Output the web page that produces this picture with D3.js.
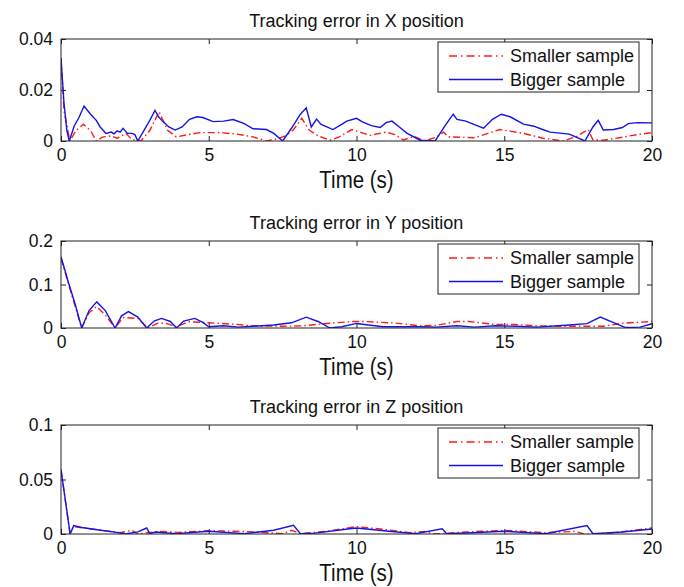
<!DOCTYPE html>
<html>
<head>
<meta charset="utf-8">
<script src="https://cdn.jsdelivr.net/npm/d3@7"></script>
<style>
  body { margin: 0; background: #fff; }
  text { font-family: "Liberation Sans", Arial, sans-serif; fill: #111; }
</style>
</head>
<body>
<div id="chart"></div>
<script>
const titles = ['Tracking error in X position', 'Tracking error in Y position', 'Tracking error in Z position'];
const xTicks = [0, 5, 10, 15, 20];
const yTicksX = [0, 0.02, 0.04];
const yTicksY = [0, 0.1, 0.2];
const yTicksZ = [0, 0.05, 0.1];
const seriesNames = ['Smaller sample', 'Bigger sample'];

// [time, error]
const xSmaller = [[0,0.0325],[0.1,0.012],[0.3,0],[0.5,0.004],[0.76,0.0066],[1.0,0.004],[1.2,0],[1.4,0.0015],[1.7,0.002],[1.9,0.001],[2.2,0.003],[2.4,0.0005],[2.7,0],[3.0,0.004],[3.32,0.0115],[3.6,0.0043],[3.9,0.0016],[4.3,0.0025],[4.7,0.0033],[5.3,0.0033],[5.9,0.0028],[6.5,0.0016],[6.95,0],[7.3,0.0008],[7.6,0.002],[7.86,0.0043],[8.15,0.0089],[8.4,0.0043],[8.7,0.002],[9.1,0.0003],[9.4,0.0015],[9.84,0.0045],[10.45,0.0022],[11.0,0.0035],[11.3,0.0025],[11.58,0.0004],[11.95,0.0018],[12.3,0],[12.7,0.0015],[12.95,0.0035],[13.1,0.0016],[14.0,0.0013],[14.4,0.0028],[14.85,0.0045],[15.65,0.003],[16.3,0.0011],[17.0,0],[17.45,0.0018],[17.84,0.0045],[18.0,0.0005],[18.35,0.0003],[18.9,0.0013],[19.5,0.0025],[20,0.0033]];
const xBigger = [[0,0.0325],[0.1,0.015],[0.2,0.004],[0.28,0],[0.45,0.006],[0.6,0.009],[0.78,0.0137],[1.0,0.0105],[1.2,0.008],[1.32,0.0056],[1.52,0.003],[1.7,0.0035],[1.8,0.0028],[1.9,0.004],[2.0,0.0035],[2.1,0.005],[2.25,0.003],[2.4,0.003],[2.5,0.0025],[2.6,0],[2.8,0.004],[3.0,0.008],[3.18,0.012],[3.3,0.0095],[3.45,0.0076],[3.65,0.0055],[3.86,0.0043],[4.1,0.0055],[4.35,0.0085],[4.6,0.0095],[4.8,0.0092],[5.15,0.0076],[5.5,0.0078],[5.83,0.0084],[6.2,0.0068],[6.5,0.0048],[6.95,0.0045],[7.2,0.003],[7.5,0],[7.8,0.005],[8.1,0.0105],[8.3,0.013],[8.47,0.0055],[8.65,0.0086],[8.8,0.0065],[9.0,0.0055],[9.2,0.0045],[9.5,0.0065],[9.67,0.0078],[10.0,0.0089],[10.2,0.0075],[10.5,0.006],[10.8,0.0053],[11.0,0.0072],[11.2,0.0078],[11.45,0.0055],[11.7,0.0031],[12.15,0.0003],[12.66,0],[13.0,0.006],[13.27,0.0105],[13.4,0.0085],[13.7,0.0078],[13.95,0.0066],[14.3,0.005],[14.6,0.0085],[14.9,0.0105],[15.2,0.0095],[15.65,0.0066],[16.0,0.0058],[16.3,0.0045],[16.55,0.0035],[17.2,0.0027],[17.73,0],[18.0,0.0055],[18.18,0.0081],[18.35,0.0043],[18.7,0.0045],[19.0,0.0053],[19.2,0.0068],[19.5,0.0072],[20,0.0071]];

const ySmaller = [[0,0.16],[0.26,0.1],[0.5,0.045],[0.7,0],[0.95,0.035],[1.2,0.049],[1.5,0.03],[1.83,0],[2.1,0.024],[2.6,0.022],[2.95,0],[3.3,0.012],[3.6,0.01],[3.9,0.002],[4.3,0.0145],[5.0,0.012],[5.9,0.0085],[6.5,0.005],[7.5,0.004],[8.2,0.005],[9.0,0.0105],[9.9,0.015],[10.2,0.015],[11.3,0.0115],[12.15,0.005],[12.7,0.006],[13.4,0.015],[13.8,0.015],[14.7,0.008],[15.4,0.008],[16.1,0.005],[17.0,0.004],[18.35,0.004],[19.0,0.011],[20,0.015]];
const yBigger = [[0,0.164],[0.26,0.103],[0.5,0.05],[0.7,0],[0.95,0.04],[1.21,0.06],[1.5,0.04],[1.83,0],[2.05,0.028],[2.28,0.0375],[2.6,0.025],[2.9,0],[3.15,0.016],[3.4,0.022],[3.7,0.015],[3.91,0],[4.15,0.016],[4.53,0.022],[4.8,0.013],[5.0,0.003],[5.5,0.005],[6.0,0.002],[6.5,0.004],[7.2,0.007],[7.8,0.012],[8.3,0.025],[8.7,0.015],[9.1,0],[9.5,0.003],[10.0,0.0105],[10.4,0.007],[10.9,0.003],[12.15,0.003],[12.7,0.002],[13.4,0.005],[14.0,0.002],[14.7,0.005],[15.4,0.004],[16.1,0.002],[17.2,0.007],[17.8,0.01],[18.25,0.025],[18.7,0.0125],[19.1,0.001],[19.6,0.002],[20,0.01]];

const zSmaller = [[0,0.059],[0.3,0.001],[0.43,0.0068],[1.35,0.0034],[2.0,0.0012],[2.4,0.0034],[2.6,0],[3.3,0.0024],[4.0,0.0015],[5.0,0.0031],[6.1,0.0024],[7.0,0.0012],[7.5,0.0003],[7.8,0.0034],[8.1,0.0003],[9.0,0.0025],[10,0.0068],[11.0,0.004],[11.8,0.0012],[12.3,0.0024],[12.6,0],[13.7,0.0018],[15,0.0034],[16.4,0.0012],[17.4,0.0024],[17.7,0],[18.5,0.0005],[20,0.0055]];
const zBigger = [[0,0.059],[0.31,0],[0.43,0.0077],[0.7,0.006],[1.35,0.0035],[2.0,0.001],[2.17,0],[2.6,0.002],[2.9,0.0055],[3.0,0.0003],[3.2,0.0018],[3.9,0.0003],[5.0,0.0025],[6.2,0.0003],[7.2,0.0034],[7.87,0.008],[8.1,0.0003],[8.6,0.0008],[9.7,0.0046],[10,0.0055],[11.1,0.0025],[12,0.0003],[12.9,0.0048],[13.05,0.0003],[13.7,0.0009],[15,0.0025],[16.4,0.0003],[17.8,0.0077],[18,0.0003],[19,0.0018],[20,0.0046]];

const redColor = '#ff1a1a';
const blueColor = '#1414e6';
const redDash = '7,3,1.5,3';

const panels = [
    {title: titles[0], ticks: yTicksX, fmt: d => d === 0 ? '0' : d3.format('.2f')(d), top: 39, bottom: 141, smaller: xSmaller, bigger: xBigger},
    {title: titles[1], ticks: yTicksY, fmt: d => d === 0 ? '0' : d3.format('.1f')(d), top: 241, bottom: 328, smaller: ySmaller, bigger: yBigger},
    {title: titles[2], ticks: yTicksZ, fmt: d => d === 0 ? '0' : String(d), top: 425, bottom: 534, smaller: zSmaller, bigger: zBigger}
];

const W = 684, H = 587;
const left = 61, right = 652;

const svg = d3.select('#chart').append('svg')
    .attr('width', W)
    .attr('height', H);

const x = d3.scaleLinear().domain([0, 20]).range([left, right]);

panels.forEach(function(p) {
    const y = d3.scaleLinear()
        .domain([p.ticks[0], p.ticks[p.ticks.length - 1]])
        .range([p.bottom, p.top]);

    const g = svg.append('g');

    // inward ticks on all four sides (matlab style)
    g.append('g')
        .attr('transform', `translate(0, ${p.bottom})`)
        .call(d3.axisBottom(x).tickValues(xTicks).tickSize(-5).tickSizeOuter(0).tickPadding(8))
        .call(a => a.select('.domain').remove())
        .selectAll('text').style('font-size', '17.5px').attr('dy', '0.71em');
    g.append('g')
        .attr('transform', `translate(0, ${p.top})`)
        .call(d3.axisTop(x).tickValues(xTicks).tickSize(-5).tickFormat(''))
        .call(a => a.select('.domain').remove());
    g.append('g')
        .attr('transform', `translate(${left}, 0)`)
        .call(d3.axisLeft(y).tickValues(p.ticks).tickSize(-5).tickPadding(8).tickFormat(p.fmt))
        .call(a => a.select('.domain').remove())
        .selectAll('text').style('font-size', '17.5px');
    g.append('g')
        .attr('transform', `translate(${right}, 0)`)
        .call(d3.axisRight(y).tickValues(p.ticks).tickSize(-5).tickFormat(''))
        .call(a => a.select('.domain').remove());
    g.selectAll('.tick line').attr('stroke', '#222');

    // clip lines to plot area
    const clipId = 'clip' + p.top;
    svg.append('clipPath').attr('id', clipId)
        .append('rect')
        .attr('x', left).attr('y', p.top - 1)
        .attr('width', right - left).attr('height', p.bottom - p.top + 1);

    const line = d3.line().x(d => x(d[0])).y(d => y(d[1]));

    g.append('path')
        .datum(p.smaller)
        .attr('clip-path', `url(#${clipId})`)
        .attr('d', line)
        .attr('fill', 'none')
        .attr('stroke', redColor)
        .attr('stroke-width', 1.4)
        .attr('stroke-dasharray', redDash);

    g.append('path')
        .datum(p.bigger)
        .attr('clip-path', `url(#${clipId})`)
        .attr('d', line)
        .attr('fill', 'none')
        .attr('stroke', blueColor)
        .attr('stroke-width', 1.4);

    // box
    g.append('rect')
        .attr('x', left).attr('y', p.top)
        .attr('width', right - left).attr('height', p.bottom - p.top)
        .attr('fill', 'none')
        .attr('stroke', '#222')
        .attr('stroke-width', 1);

    // title
    g.append('text')
        .attr('x', (left + right) / 2)
        .attr('y', p.top - 12)
        .attr('text-anchor', 'middle')
        .style('font-size', '18px')
        .text(p.title);

    // x label (slightly taller glyphs in the original)
    g.append('text')
        .attr('transform', `translate(${(left + right) / 2}, ${p.bottom + 47}) scale(1, 1.15)`)
        .attr('text-anchor', 'middle')
        .style('font-size', '20.5px')
        .text('Time (s)');

    // legend
    const lg = g.append('g').attr('transform', `translate(438, ${p.top + 3})`);
    lg.append('rect')
        .attr('width', 201).attr('height', 50)
        .attr('fill', '#fff')
        .attr('stroke', '#222')
        .attr('stroke-width', 1);
    seriesNames.forEach(function(name, i) {
        const cy = 14 + i * 23.5;
        lg.append('line')
            .attr('x1', 11).attr('x2', 65)
            .attr('y1', cy).attr('y2', cy)
            .attr('stroke', i === 0 ? redColor : blueColor)
            .attr('stroke-width', 1.4)
            .attr('stroke-dasharray', i === 0 ? '8,4,1.5,4' : null);
        lg.append('text')
            .attr('x', 72)
            .attr('y', cy)
            .attr('dy', '0.35em')
            .style('font-size', '18px')
            .text(name);
    });
});
</script>
</body>
</html>
